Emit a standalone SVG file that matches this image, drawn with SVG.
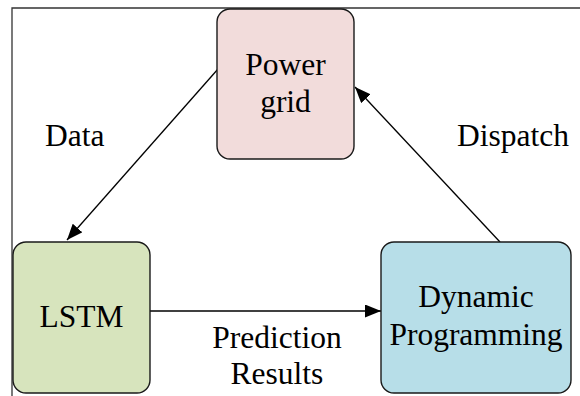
<svg xmlns="http://www.w3.org/2000/svg" width="580" height="396" viewBox="0 0 580 396">
  <style>
    .box { stroke: #1a1a1a; stroke-width: 1.4; }
    .lbl { font-family: "Liberation Serif", "Times New Roman", serif; font-size: 31.5px; fill: #000; }
    .mid { text-anchor: middle; }
    .edge { stroke: #000; stroke-width: 1.3; fill: none; marker-end: url(#arrow); }
    .frame { stroke: #333; stroke-width: 1.3; fill: none; }
  </style>
  <defs>
    <marker id="arrow" markerUnits="userSpaceOnUse" markerWidth="17" markerHeight="13" refX="16" refY="6.5" orient="auto">
      <path d="M0,0 L16,6.5 L0,13 Z" fill="#000"/>
    </marker>
  </defs>
  <rect width="580" height="396" fill="#fff"/>
  <!-- outer frame: top and left edges only -->
  <path class="frame" d="M12,396 V8 H580"/>

  <g id="connectors">
    <line class="edge" x1="218" y1="69" x2="67" y2="240"/>
    <line class="edge" x1="150" y1="311" x2="381" y2="311"/>
    <line class="edge" x1="500" y1="242" x2="355" y2="87"/>
    <text class="lbl" x="45" y="146">Data</text>
    <text class="lbl" x="457" y="146">Dispatch</text>
    <text class="lbl mid" x="277" y="348">Prediction</text>
    <text class="lbl mid" x="277" y="384">Results</text>
  </g>

  <g id="power-grid">
    <rect class="box" x="217" y="9" width="137" height="150" rx="13" fill="#f2dcdb"/>
    <text class="lbl mid" x="285.5" y="75">Power</text>
    <text class="lbl mid" x="285.5" y="112">grid</text>
  </g>

  <g id="lstm">
    <rect class="box" x="13" y="242" width="137" height="151" rx="13" fill="#d7e4bd"/>
    <text class="lbl mid" x="81.5" y="327">LSTM</text>
  </g>

  <g id="dynamic-programming">
    <rect class="box" x="381" y="242" width="190" height="151" rx="13" fill="#b7dee8"/>
    <text class="lbl mid" x="476" y="307">Dynamic</text>
    <text class="lbl mid" x="476" y="345">Programming</text>
  </g>
</svg>
